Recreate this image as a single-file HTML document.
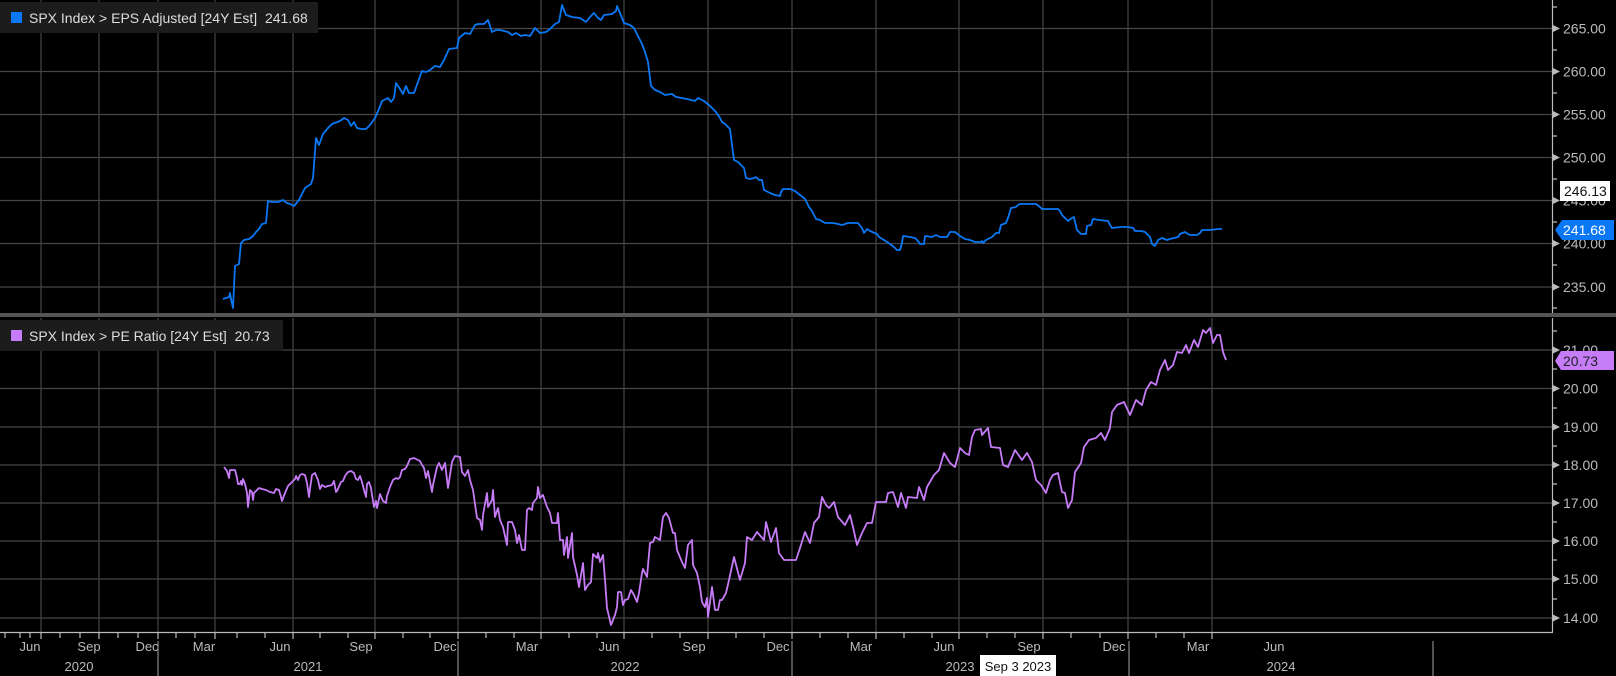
<!DOCTYPE html>
<html><head><meta charset="utf-8"><style>
html,body{margin:0;padding:0;background:#000;width:1616px;height:676px;overflow:hidden}
svg{display:block;font-family:"Liberation Sans",sans-serif}
</style></head><body>
<svg width="1616" height="676" viewBox="0 0 1616 676" xmlns="http://www.w3.org/2000/svg">
<rect width="1616" height="676" fill="#000"/>
<g stroke="#464646" stroke-width="1.2">
<!-- top horizontal grid -->
<line x1="0" y1="28.5" x2="1552" y2="28.5"/><line x1="0" y1="71.5" x2="1552" y2="71.5"/>
<line x1="0" y1="114.5" x2="1552" y2="114.5"/><line x1="0" y1="157.5" x2="1552" y2="157.5"/>
<line x1="0" y1="200.5" x2="1552" y2="200.5"/><line x1="0" y1="243.5" x2="1552" y2="243.5"/>
<line x1="0" y1="287" x2="1552" y2="287"/>
<!-- bottom horizontal grid -->
<line x1="0" y1="350" x2="1552" y2="350"/><line x1="0" y1="388.5" x2="1552" y2="388.5"/>
<line x1="0" y1="427" x2="1552" y2="427"/><line x1="0" y1="465" x2="1552" y2="465"/>
<line x1="0" y1="503" x2="1552" y2="503"/><line x1="0" y1="541" x2="1552" y2="541"/>
<line x1="0" y1="579" x2="1552" y2="579"/><line x1="0" y1="618" x2="1552" y2="618"/>
</g>
<g stroke="#464646" stroke-width="1.2" id="vg">
<path d="M41 0V313M99 0V313M158 0V313M215 0V313M293 0V313M375 0V313M458 0V313M541 0V313M624 0V313M708 0V313M792 0V313M876 0V313M959 0V313M1043 0V313M1128 0V313M1212 0V313"/>
<path d="M41 318V632M99 318V632M158 318V632M215 318V632M293 318V632M375 318V632M458 318V632M541 318V632M624 318V632M708 318V632M792 318V632M876 318V632M959 318V632M1043 318V632M1128 318V632M1212 318V632"/>
</g>
<rect x="0" y="313" width="1616" height="4" fill="#555"/>
<!-- right axis lines -->
<g stroke="#bbb" stroke-width="1.2">
<line x1="1552.5" y1="0" x2="1552.5" y2="313"/>
<line x1="1552.5" y1="318" x2="1552.5" y2="632"/>
<line x1="0" y1="632.5" x2="1553" y2="632.5"/>
<path d="M1553 7h4M1553 50h4M1553 93h4M1553 136h4M1553 179h4M1553 222h4M1553 265h4M1553 308h4"/>
<path d="M1553 331h4M1553 369h4M1553 408h4M1553 446h4M1553 484h4M1553 522h4M1553 560h4M1553 599h4"/>
<path d="M5 633v5M20 633v5M30 633v5M41 633v6M60 633v5M80 633v5M99 633v6M118 633v5M138 633v5M158 633v6M176 633v5M195 633v5M215 633v6M237 633v5M265 633v5M293 633v6M320 633v5M348 633v5M375 633v6M403 633v5M430 633v5M458 633v6M486 633v5M514 633v5M541 633v6M569 633v5M597 633v5M624 633v6M652 633v5M680 633v5M708 633v6M736 633v5M764 633v5M792 633v6M820 633v5M848 633v5M876 633v6M904 633v5M932 633v5M959 633v6M987 633v5M1015 633v5M1043 633v6M1071 633v5M1100 633v5M1128 633v6M1156 633v5M1184 633v5M1212 633v6"/>
<path d="M158 641V676M458 641V676M792 641V676M1129 641V676M1433 641V676" stroke="#888"/>
</g>
<g fill="#bbb">
<path d="M1553 25l7 3.5l-7 3.5zM1553 68l7 3.5l-7 3.5zM1553 111l7 3.5l-7 3.5zM1553 154l7 3.5l-7 3.5zM1553 197l7 3.5l-7 3.5zM1553 240l7 3.5l-7 3.5zM1553 283.5l7 3.5l-7 3.5z"/>
<path d="M1553 346.5l7 3.5l-7 3.5zM1553 385l7 3.5l-7 3.5zM1553 423.5l7 3.5l-7 3.5zM1553 461.5l7 3.5l-7 3.5zM1553 499.5l7 3.5l-7 3.5zM1553 537.5l7 3.5l-7 3.5zM1553 575.5l7 3.5l-7 3.5zM1553 614.5l7 3.5l-7 3.5z"/>
</g>
<g fill="#bbb" font-size="14">
<text x="1563" y="33.5">265.00</text><text x="1563" y="76.5">260.00</text><text x="1563" y="119.5">255.00</text>
<text x="1563" y="162.5">250.00</text><text x="1563" y="205.5">245.00</text><text x="1563" y="248.5">240.00</text>
<text x="1563" y="292">235.00</text>
<text x="1563" y="355">21.00</text><text x="1563" y="393.5">20.00</text><text x="1563" y="432">19.00</text>
<text x="1563" y="470">18.00</text><text x="1563" y="508">17.00</text><text x="1563" y="546">16.00</text>
<text x="1563" y="584">15.00</text><text x="1563" y="623">14.00</text>
</g>
<!-- value labels -->
<rect x="1560" y="181" width="50" height="20" fill="#fff"/>
<text x="1564" y="196" font-size="14" fill="#111">246.13</text>
<path d="M1555 230l7-10h52v20h-52z" fill="#0a78f5"/>
<text x="1563" y="235" font-size="14" fill="#fff">241.68</text>
<path d="M1555 361l6-10h53v19h-53z" fill="#c67bf7"/>
<text x="1563" y="366" font-size="14" fill="#222">20.73</text>
<!-- x labels -->
<g fill="#bbb" font-size="13" text-anchor="middle">
<text x="30" y="651">Jun</text><text x="89" y="651">Sep</text><text x="147" y="651">Dec</text><text x="204" y="651">Mar</text>
<text x="280" y="651">Jun</text><text x="361" y="651">Sep</text><text x="445" y="651">Dec</text><text x="527" y="651">Mar</text>
<text x="609" y="651">Jun</text><text x="694" y="651">Sep</text><text x="778" y="651">Dec</text><text x="861" y="651">Mar</text>
<text x="944" y="651">Jun</text><text x="1029" y="651">Sep</text><text x="1114" y="651">Dec</text><text x="1198" y="651">Mar</text>
<text x="1274" y="651">Jun</text>
<text x="79" y="671">2020</text><text x="308" y="671">2021</text><text x="625" y="671">2022</text><text x="960" y="671">2023</text><text x="1281" y="671">2024</text>
</g>
<rect x="980" y="655" width="76" height="21" fill="#fff"/>
<text x="1018" y="671" font-size="13" fill="#111" text-anchor="middle">Sep 3 2023</text>
<!-- legends -->
<rect x="0" y="2" width="318" height="31" fill="#1c1c1c"/>
<rect x="11" y="12" width="11" height="11" fill="#0a78f5"/>
<text x="29" y="23" font-size="14" fill="#ddd" xml:space="preserve">SPX Index &gt; EPS Adjusted [24Y Est]  241.68</text>
<rect x="0" y="320" width="283" height="31" fill="#1c1c1c"/>
<rect x="11" y="330" width="11" height="11" fill="#c67bf7"/>
<text x="29" y="341" font-size="14" fill="#ddd" xml:space="preserve">SPX Index &gt; PE Ratio [24Y Est]  20.73</text>
<!-- EPS series -->
<polyline fill="none" stroke="#0a78f5" stroke-width="1.8" stroke-linejoin="round" points="223,299 229,297 230,293 231,299 233,308 235,266 239,264 241,243 244,240 249,239 253,236 256,232 259,229 262,224 266,223 268,201 272,202 278,202 283,200 287,203 290,204 294,206 299,200 305,188 311,184 313,178 316,138 319,145 323,134 328,128 332,124 340,121 344,118 348,120 351,126 354,122 357,128 361,129 366,129 370,125 375,118 379,109 382,101 388,98 391,102 394,98 396,83 400,89 403,94 406,86 409,93 414,93 418,82 422,71 426,72 430,70 435,66 440,67 444,60 449,49 457,48 459,38 465,33 470,34 475,25 478,24 484,24 488,20 492,32 496,30 500,30 508,32 512,35 516,33 521,36 525,35 530,36 535,28 540,33 546,32 550,29 555,24 559,22 562,5 566,15 572,17 580,18 586,22 590,17 594,13 598,18 601,20 604,15 612,14 616,11 617,6 620,13 624,23 630,25 634,28 638,36 642,44 645,52 648,62 651,86 655,90 660,92 665,95 672,94 676,97 687,99 695,101 698,98 704,101 710,106 716,112 720,118 722,122 725,124 730,129 732,145 734,160 738,162 740,164 744,168 746,178 750,179 754,178 756,177 759,180 762,180 764,190 770,193 775,195 780,196 781,192 783,189 790,189 795,191 800,195 805,199 809,207 812,211 816,219 820,220 825,223 833,223 838,224 842,225 848,223 853,223 858,223 862,228 864,233 867,229 870,231 877,234 879,237 884,240 890,244 894,247 897,250 900,250 902,243 903,236 910,237 915,238 918,241 920,244 924,244 925,236 932,237 936,235 940,237 947,237 950,232 955,232 960,236 965,239 970,240 975,242 981,242 982,241 983,243 986,240 992,237 994,235 996,233 999,233 1001,225 1006,223 1008,218 1011,208 1016,207 1018,205 1020,204 1030,204 1036,204 1040,207 1042,209 1048,209 1058,209 1060,211 1062,215 1065,218 1068,221 1072,218 1074,217 1075,222 1077,230 1081,234 1086,234 1087,226 1091,225 1093,219 1099,220 1108,221 1110,225 1112,228 1121,227 1128,227 1133,228 1135,231 1141,231 1145,232 1150,237 1152,244 1155,246 1158,240 1162,238 1167,240 1170,239 1178,237 1180,234 1185,232 1188,234 1190,235 1197,235 1200,233 1202,230 1210,230 1218,229 1222,229"/>
<!-- PE series -->
<polyline fill="none" stroke="#c67bf7" stroke-width="1.8" stroke-linejoin="round" points="224,467 227,471 229,478 230,470 233,470 235,470 237,478 238,484 240,484 241,481 242,485 243,479 245,484 247,493 248,507 250,490 252,492 253,500 254,493 256,491 259,488 262,489 266,490 270,492 274,493 276,489 279,490 281,497 282,501 285,493 288,486 292,482 295,479 296,476 298,480 300,475 302,474 305,475 307,483 309,497 310,489 312,475 315,473 318,480 320,489 322,485 325,487 328,486 332,485 334,481 336,492 337,491 341,482 343,481 345,476 348,472 351,471 354,473 356,479 358,480 360,476 362,482 364,490 366,497 367,484 369,482 371,488 372,495 374,507 376,501 377,508 380,494 383,501 386,503 387,496 390,487 393,480 396,478 398,479 400,477 402,470 405,469 407,466 410,459 414,458 416,459 420,461 422,465 424,468 426,478 428,471 432,492 433,485 437,467 439,463 442,470 445,463 448,488 452,462 455,456 460,457 462,472 465,476 468,470 470,480 473,490 477,518 480,520 482,530 483,515 487,493 488,507 492,500 493,490 495,517 498,508 500,520 503,527 507,545 508,522 512,522 515,530 517,543 519,535 522,550 525,550 527,510 529,508 532,510 533,503 537,498 538,487 540,498 543,495 547,507 550,513 552,523 557,523 558,513 560,540 563,540 564,555 567,537 568,558 572,533 573,557 577,575 579,587 583,563 585,590 588,585 591,582 593,554 597,558 598,553 600,562 603,555 605,580 607,608 611,625 615,615 617,607 618,592 621,592 623,605 625,600 628,599 631,590 634,595 637,602 639,593 642,573 643,569 647,577 650,543 653,542 655,537 660,540 663,517 666,513 669,518 673,533 675,533 677,550 682,562 685,568 688,545 692,540 693,565 697,573 700,587 702,602 705,607 707,598 708,617 712,587 715,610 718,610 720,600 722,600 726,593 729,580 734,557 740,580 745,563 747,537 752,540 757,532 764,540 766,522 771,542 776,528 779,553 784,560 790,560 796,560 800,548 805,532 810,543 814,523 819,517 822,497 826,505 829,508 834,502 838,517 845,525 850,515 853,527 857,545 862,533 867,523 872,523 876,502 886,502 888,493 893,492 898,507 901,493 906,508 908,497 917,498 919,487 924,500 927,487 934,475 939,470 944,453 950,463 955,467 960,448 965,453 969,455 972,437 975,430 981,429 982,435 988,428 991,447 1000,448 1003,465 1008,467 1015,450 1022,460 1027,453 1032,462 1036,480 1041,485 1046,493 1050,480 1053,475 1058,473 1062,492 1065,493 1068,508 1072,500 1075,472 1081,463 1084,447 1089,440 1096,438 1101,433 1105,440 1110,428 1112,412 1117,405 1124,402 1130,415 1136,400 1142,405 1146,390 1151,382 1156,385 1160,370 1165,360 1168,370 1173,365 1177,352 1182,353 1186,345 1189,353 1194,340 1198,347 1203,330 1206,333 1210,328 1213,343 1217,335 1220,335 1223,352 1226,360"/>
</svg>
</body></html>
